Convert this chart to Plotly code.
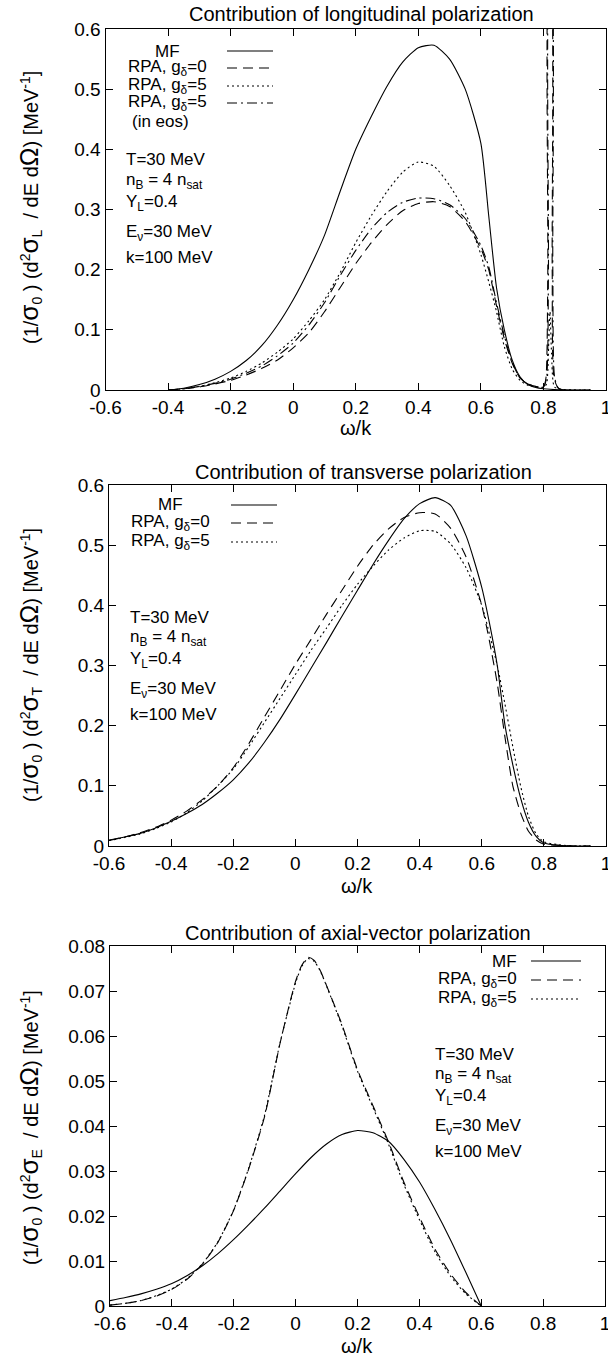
import plotly.graph_objects as go

# ---------------- data ----------------
# Panel 1: longitudinal polarization
L_x = [-0.4, -0.35, -0.3, -0.25, -0.2, -0.15, -0.1, -0.05, 0.0, 0.05, 0.1, 0.15, 0.2, 0.25,
       0.3, 0.35, 0.4, 0.45, 0.5, 0.55, 0.6, 0.625, 0.65, 0.675, 0.7, 0.725, 0.75, 0.775, 0.8]
L_mf = [0, 0.003, 0.009, 0.018, 0.031, 0.049, 0.074, 0.108, 0.15, 0.2, 0.257, 0.33, 0.4, 0.455,
        0.505, 0.545, 0.569, 0.573, 0.55, 0.5, 0.41, 0.29, 0.17, 0.1, 0.05, 0.022, 0.009, 0.004, 0.002]
L_mf_tail_x = [0.85, 0.95]
L_mf_tail = [0.0005, 0.0]
L_g0 = [0, 0.002, 0.005, 0.01, 0.016, 0.025, 0.036, 0.05, 0.07, 0.095, 0.13, 0.17, 0.21, 0.245,
        0.275, 0.298, 0.31, 0.313, 0.305, 0.28, 0.235, 0.2, 0.14, 0.085, 0.045, 0.02, 0.01, 0.006, 0.005]
L_g0_tail_x = [0.808, 0.814, 0.818, 0.823, 0.828, 0.834, 0.85, 0.95]
L_g0_tail = [0.02, 0.2, 0.7, 0.7, 0.2, 0.02, 0.002, 0.0]
L_g5 = [0, 0.002, 0.006, 0.012, 0.02, 0.031, 0.045, 0.063, 0.085, 0.115, 0.15, 0.195, 0.245, 0.29,
        0.33, 0.362, 0.379, 0.372, 0.34, 0.295, 0.225, 0.18, 0.13, 0.072, 0.035, 0.016, 0.008, 0.005, 0.004]
L_g5_tail_x = [0.81, 0.817, 0.821, 0.826, 0.835, 0.86, 0.95]
L_g5_tail = [0.01, 0.08, 0.13, 0.06, 0.005, 0.001, 0.0]
L_eos = [0, 0.002, 0.006, 0.011, 0.018, 0.028, 0.04, 0.057, 0.078, 0.108, 0.145, 0.19, 0.232, 0.268,
         0.295, 0.312, 0.319, 0.318, 0.308, 0.285, 0.24, 0.205, 0.145, 0.09, 0.046, 0.02, 0.01, 0.006, 0.005]
L_eos_tail_x = [0.81, 0.816, 0.82, 0.825, 0.83, 0.836, 0.85, 0.95]
L_eos_tail = [0.02, 0.2, 0.7, 0.7, 0.2, 0.02, 0.002, 0.0]

# Panel 2: transverse polarization
T_x = [-0.6, -0.55, -0.5, -0.45, -0.4, -0.35, -0.3, -0.25, -0.2, -0.15, -0.1, -0.05, 0.0, 0.05,
       0.1, 0.15, 0.2, 0.25, 0.3, 0.35, 0.4, 0.45, 0.5, 0.55, 0.6,
       0.625, 0.65, 0.675, 0.7, 0.725, 0.75, 0.775, 0.8, 0.85, 0.9, 0.95]
T_mf = [0.010, 0.015, 0.021, 0.030, 0.041, 0.054, 0.069, 0.088, 0.110, 0.138, 0.172, 0.210, 0.252, 0.295,
        0.338, 0.382, 0.425, 0.468, 0.508, 0.544, 0.569, 0.579, 0.566, 0.515, 0.43,
        0.37, 0.3, 0.2, 0.135, 0.08, 0.04, 0.016, 0.005, 0.001, 0.0, 0.0]
T_g0 = [0.009, 0.015, 0.022, 0.031, 0.043, 0.058, 0.077, 0.1, 0.13, 0.17, 0.214, 0.258, 0.302, 0.343,
        0.385, 0.425, 0.465, 0.5, 0.527, 0.546, 0.554, 0.552, 0.528, 0.48, 0.4,
        0.34, 0.27, 0.18, 0.1, 0.055, 0.025, 0.01, 0.003, 0.001, 0.0, 0.0]
T_g5 = [0.009, 0.014, 0.02, 0.029, 0.04, 0.055, 0.075, 0.1, 0.128, 0.165, 0.205, 0.245, 0.285, 0.325,
        0.362, 0.4, 0.435, 0.465, 0.492, 0.512, 0.524, 0.523, 0.502, 0.462, 0.4,
        0.352, 0.3, 0.235, 0.165, 0.1, 0.05, 0.02, 0.007, 0.002, 0.0, 0.0]

# Panel 3: axial-vector polarization
A_mf_x = [-0.6, -0.55, -0.5, -0.45, -0.4, -0.35, -0.3, -0.25, -0.2, -0.15, -0.1, -0.05, 0.0,
          0.05, 0.1, 0.15, 0.2, 0.25, 0.3, 0.35, 0.4, 0.45, 0.5, 0.55, 0.6]
A_mf = [0.0012, 0.0019, 0.0027, 0.0037, 0.005, 0.0068, 0.009, 0.0117, 0.0148, 0.0182, 0.0218, 0.0256, 0.0294,
        0.033, 0.036, 0.0381, 0.039, 0.0385, 0.0366, 0.0326, 0.0276, 0.0215, 0.0148, 0.0075, 0.0]
A_x = [-0.6, -0.55, -0.5, -0.45, -0.4, -0.35, -0.3, -0.25, -0.2, -0.15, -0.1, -0.05, 0.0,
       0.02, 0.04, 0.06, 0.08, 0.1, 0.15, 0.2, 0.25, 0.3, 0.35, 0.4, 0.45, 0.5, 0.55, 0.6]
A_g0 = [0.0002, 0.0006, 0.0012, 0.0022, 0.0037, 0.006, 0.0094, 0.0143, 0.0213, 0.0308, 0.0422, 0.0585, 0.0722,
        0.0757, 0.0775, 0.0768, 0.0745, 0.0712, 0.0625, 0.0525, 0.0445, 0.0365, 0.0275, 0.0198, 0.0127,
        0.0072, 0.003, 0.0]
A_g5 = [0.0002, 0.0006, 0.0012, 0.0023, 0.0038, 0.0061, 0.0095, 0.0144, 0.0214, 0.031, 0.0425, 0.0586, 0.0718,
        0.0755, 0.0772, 0.0766, 0.0744, 0.0711, 0.0622, 0.0522, 0.0441, 0.036, 0.027, 0.0192, 0.0121,
        0.0067, 0.0027, 0.0]

x_ticks = [-0.6, -0.4, -0.2, 0, 0.2, 0.4, 0.6, 0.8, 1.0]
x_ticklabels = ["-0.6", "-0.4", "-0.2", "0", "0.2", "0.4", "0.6", "0.8", "1"]
y_ticks_LT = [0, 0.1, 0.2, 0.3, 0.4, 0.5, 0.6]
y_ticklabels_LT = ["0", "0.1", "0.2", "0.3", "0.4", "0.5", "0.6"]
y_ticks_A = [0, 0.01, 0.02, 0.03, 0.04, 0.05, 0.06, 0.07, 0.08]
y_ticklabels_A = ["0", "0.01", "0.02", "0.03", "0.04", "0.05", "0.06", "0.07", "0.08"]

titles = ["Contribution of longitudinal polarization",
          "Contribution of transverse polarization",
          "Contribution of axial-vector polarization"]
pol_sub = ["L", "T", "E"]
label_mf = "MF"
label_g0 = "RPA, g<sub>δ</sub>=0"
label_g5 = "RPA, g<sub>δ</sub>=5"
label_eos = "(in eos)"
params = ["T=30 MeV", "n<sub>B</sub> = 4 n<sub>sat</sub>", "Y<sub>L</sub>=0.4",
          "E<sub>ν</sub>=30 MeV", "k=100 MeV"]

# ---------------- styling ----------------
W, H = 608, 1363
FONT = "Liberation Sans, Arial, Helvetica, sans-serif"
SOLID = "solid"
DASH = "10px,6px"
DOT = "2px,3px"
DASHDOT = "10px,4px,2px,4px"


def px(x):
    return x / W


def py(y):
    return 1 - y / H


fig = go.Figure()


def add(x, y, dash, ax):
    fig.add_trace(go.Scatter(x=x, y=y, mode="lines", xaxis="x" + ax, yaxis="y" + ax,
                             line=dict(color="black", width=1.1, dash=dash, shape="spline", smoothing=0.6),
                             showlegend=False, hoverinfo="skip"))


add(L_x + L_mf_tail_x, L_mf + L_mf_tail, SOLID, "")
add(L_x + L_g0_tail_x, L_g0 + L_g0_tail, DASH, "")
add(L_x + L_g5_tail_x, L_g5 + L_g5_tail, DOT, "")
add(L_x + L_eos_tail_x, L_eos + L_eos_tail, DASHDOT, "")

add(T_x, T_mf, SOLID, "2")
add(T_x, T_g0, DASH, "2")
add(T_x, T_g5, DOT, "2")

add(A_mf_x, A_mf, SOLID, "3")
add(A_x, A_g0, DASH, "3")
add(A_x, A_g5, DOT, "3")

# axes geometry (pixels)
panels = [
    dict(l=105.5, r=606, t=29, b=390),
    dict(l=109, r=606, t=485, b=846),
    dict(l=110, r=605, t=946, b=1306),
]

axis_common = dict(showline=True, linecolor="black", linewidth=1, mirror="ticks",
                   ticks="inside", ticklen=7, tickcolor="black", tickwidth=1,
                   showgrid=False, zeroline=False, fixedrange=True, automargin=False,
                   ticklabeloverflow="allow",
                   tickfont=dict(family=FONT, size=19, color="black"))

layout_axes = {}
for i, p in enumerate(panels):
    s = "" if i == 0 else str(i + 1)
    layout_axes["xaxis" + s] = dict(axis_common, domain=[px(p["l"]), px(p["r"])],
                                    anchor="y" + s, range=[-0.6, 1.0],
                                    tickvals=x_ticks, ticktext=x_ticklabels)
    if i < 2:
        yt, ytl, yr = y_ticks_LT, y_ticklabels_LT, [0, 0.6]
    else:
        yt, ytl, yr = y_ticks_A, y_ticklabels_A, [0, 0.08]
    layout_axes["yaxis" + s] = dict(axis_common, domain=[py(p["b"]), py(p["t"])],
                                    anchor="x" + s, range=yr,
                                    tickvals=yt, ticktext=ytl)

ann = []
shapes = []


def text(x, y, t, size=17, xanchor="center", angle=0):
    ann.append(dict(x=px(x), y=py(y), xref="paper", yref="paper", text=t, showarrow=False,
                    xanchor=xanchor, yanchor="middle", textangle=angle,
                    font=dict(family=FONT, size=size, color="black")))


def sample(x0, x1, y, dash):
    shapes.append(dict(type="line", xref="paper", yref="paper", x0=px(x0), x1=px(x1),
                       y0=py(y), y1=py(y), line=dict(color="black", width=1.1, dash=dash)))


# titles, axis titles
title_pos = [(361, 14), (363, 472), (358, 933)]
xlab_y = [428, 886, 1346]
ylab_y = [208, 665, 1128]
for i, p in enumerate(panels):
    text(title_pos[i][0], title_pos[i][1], titles[i], size=20)
    text((p["l"] + p["r"]) / 2, xlab_y[i], "ω/k", size=20)
    ytitle = ('(1/<span style="font-size:26px">σ</span><sub>0</sub> ) '
              '(d<sup>2</sup><span style="font-size:26px">σ</span><sub>' + pol_sub[i] + '</sub>  / dE d'
              '<span style="font-size:25px">Ω</span>) [MeV<sup>-1</sup>]')
    text(29, ylab_y[i], ytitle, size=20, angle=-90)

# legends
rows1 = [51, 68, 86, 103]
for lab, dsh, r in zip([label_mf, label_g0, label_g5, label_g5], [SOLID, DASH, DOT, DASHDOT], rows1):
    text(167, r, lab)
    sample(227, 273, r, dsh)
text(160, 121, label_eos)

rows2 = [505, 523, 542]
for lab, dsh, r in zip([label_mf, label_g0, label_g5], [SOLID, DASH, DOT], rows2):
    text(170, r, lab)
    sample(231, 277, r, dsh)

rows3 = [961, 980, 999]
for lab, dsh, r in zip([label_mf, label_g0, label_g5], [SOLID, DASH, DOT], rows3):
    text(519, r, lab, xanchor="right")
    sample(531, 581, r, dsh)

# parameter blocks
offs = [0, 21, 43, 73, 97]
for (x0, y0) in [(124, 160), (128, 617), (433, 1054)]:
    for t, o in zip(params, offs):
        text(x0, y0 + o, t, xanchor="left")

fig.update_layout(template="none", width=W, height=H, autosize=False,
                  margin=dict(l=0, r=0, t=0, b=0, pad=0),
                  paper_bgcolor="white", plot_bgcolor="white",
                  showlegend=False, annotations=ann, shapes=shapes,
                  font=dict(family=FONT, color="black"),
                  **layout_axes)

fig.write_html("out.html", config={"displayModeBar": False},
               post_script="document.body.style.margin='0px';document.body.style.overflow='hidden';")
